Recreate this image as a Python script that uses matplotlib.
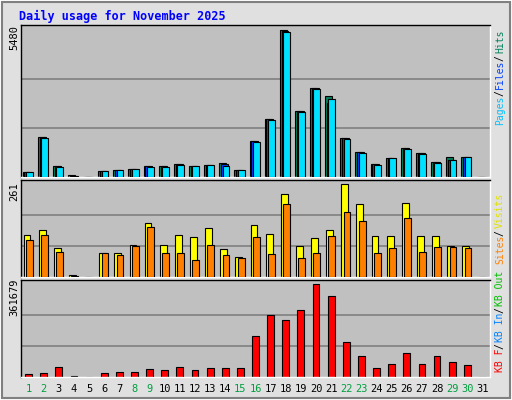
import numpy as np
import matplotlib
matplotlib.use('Agg')
import matplotlib.pyplot as plt
from matplotlib.patches import Rectangle

days = list(range(1, 32))
hits = [190, 1490, 410, 60, 0, 220, 260, 300, 410, 410, 480, 410, 450, 520, 260,
        1340, 2160, 5480, 2460, 3320, 3020, 1450, 930, 480, 710, 1080, 890, 560, 750, 750, 0]
files = [185, 1480, 400, 55, 0, 215, 255, 295, 400, 400, 470, 400, 440, 480, 255,
         1330, 2150, 5440, 2450, 3300, 2760, 1440, 920, 470, 700, 1070, 880, 550, 620, 740, 0]
pages = [180, 1470, 390, 50, 0, 210, 250, 290, 390, 390, 460, 395, 430, 410, 250,
         1320, 2140, 5400, 2440, 3280, 2900, 1400, 900, 460, 690, 1060, 870, 540, 640, 730, 0]
visits = [118, 132, 81, 6, 0, 67, 67, 90, 151, 90, 118, 112, 137, 78, 56,
          146, 120, 232, 87, 109, 132, 261, 204, 115, 115, 207, 115, 115, 87, 87, 0]
sites = [104, 118, 70, 4, 0, 67, 62, 87, 140, 67, 67, 48, 90, 62, 53,
         112, 64, 204, 53, 67, 115, 182, 157, 67, 81, 165, 70, 84, 84, 81, 0]
kbytes = [11700, 15600, 38900, 3900, 0, 15600, 19400, 19400, 31100, 27200, 38900, 27200, 35000, 35000, 35000,
          159400, 241000, 221700, 260600, 361679, 315000, 136100, 81700, 35000, 50600, 93300, 50600, 81700, 58300, 46700, 0]
weekend = [1, 2, 8, 9, 15, 16, 22, 23, 29, 30]

fig = plt.figure(figsize=(5.12, 4.0), dpi=100, facecolor='#e0e0e0')
# bevel
fig.patches.append(Rectangle((0, 0), 1, 1, transform=fig.transFigure, fill=False, ec='#ffffff', lw=2))
fig.patches.append(Rectangle((0.004, 0.005), 0.992, 0.99, transform=fig.transFigure, fill=False, ec='#808080', lw=1.5))

W, H = 512, 400
x0, x1 = 21, 490


def panel(top, bot):
    ax = fig.add_axes([x0 / W, 1 - bot / H, (x1 - x0) / W, (bot - top) / H])
    ax.set_facecolor('#c0c0c0')
    ax.set_xlim(0.5, 31.5)
    ax.set_xticks([])
    ax.set_yticks([])
    for s in ax.spines.values():
        s.set_color('black')
        s.set_linewidth(1)
    ax.spines['right'].set_color('white')
    ax.spines['bottom'].set_color('white')
    return ax


d = np.array(days)
w = 0.45
mono = 'DejaVu Sans Mono'

ax1 = panel(25, 177)
ax1.set_ylim(0, max(hits) * 152 / 147)
for g in (1 / 3, 2 / 3):
    ax1.axhline(max(hits) * g, color='#808080', lw=1.2, zorder=0)
ax1.bar(d - 0.17, hits, w, color='#00805c', ec='black', lw=0.8, zorder=2)
ax1.bar(d - 0.05, files, w, color='#0040ff', ec='black', lw=0.8, zorder=3)
ax1.bar(d + 0.05, pages, w, color='#00e0ff', ec='black', lw=0.8, zorder=4)

ax2 = panel(180, 277)
ax2.set_ylim(0, max(visits) * 97 / 93)
for g in (1 / 3, 2 / 3):
    ax2.axhline(max(visits) * g, color='#808080', lw=1.2, zorder=0)
ax2.bar(d - 0.1, visits, w, color='#ffff00', ec='black', lw=0.8, zorder=2)
ax2.bar(d + 0.05, sites, w, color='#ff8000', ec='black', lw=0.8, zorder=3)

ax3 = panel(280, 377)
ax3.set_ylim(0, max(kbytes) * 97 / 93)
for g in (1 / 3, 2 / 3):
    ax3.axhline(max(kbytes) * g, color='#808080', lw=1.2, zorder=0)
ax3.bar(d, kbytes, w, color='#ff0000', ec='black', lw=0.8, zorder=2)
ax3.set_xticks(days)
ax3.set_xticklabels([str(x) for x in days], fontsize=7.5, family=mono)
ax3.tick_params(axis='x', length=0, pad=5)
for lab, day in zip(ax3.get_xticklabels(), days):
    lab.set_color('#00a040' if day in weekend else 'black')

fig.text(19 / W, 1 - 16 / H, 'Daily usage for November 2025', color='#0000ff',
         fontsize=8.5, fontweight='bold', family=mono, va='center')
for txt, y in (('5480', 38), ('261', 192), ('361679', 297)):
    fig.text(14 / W, 1 - y / H, txt, rotation=90, fontsize=7.5, family=mono,
             ha='center', va='center')

# right legends (read bottom to top)
def legend(parts, ystart):
    y = ystart
    for txt, col in parts:
        fig.text(500 / W, 1 - y / H, txt, rotation=90, fontsize=7, family=mono,
                 color=col, ha='center', va='bottom')
        y -= len(txt) * 5.3 + 2

legend([('Pages', '#00c0ff'), ('/', 'black'), ('Files', '#0040ff'), ('/', 'black'), ('Hits', '#00805c')], 125)
legend([('Sites', '#ff8000'), ('/', 'black'), ('Visits', '#e0e000')], 264)
legend([('KB F', '#ff0000'), ('/', 'black'), ('KB In', '#0080ff'), ('/', 'black'), ('KB Out', '#00c000')], 372)

fig.savefig('out.png', dpi=100, facecolor=fig.get_facecolor())
